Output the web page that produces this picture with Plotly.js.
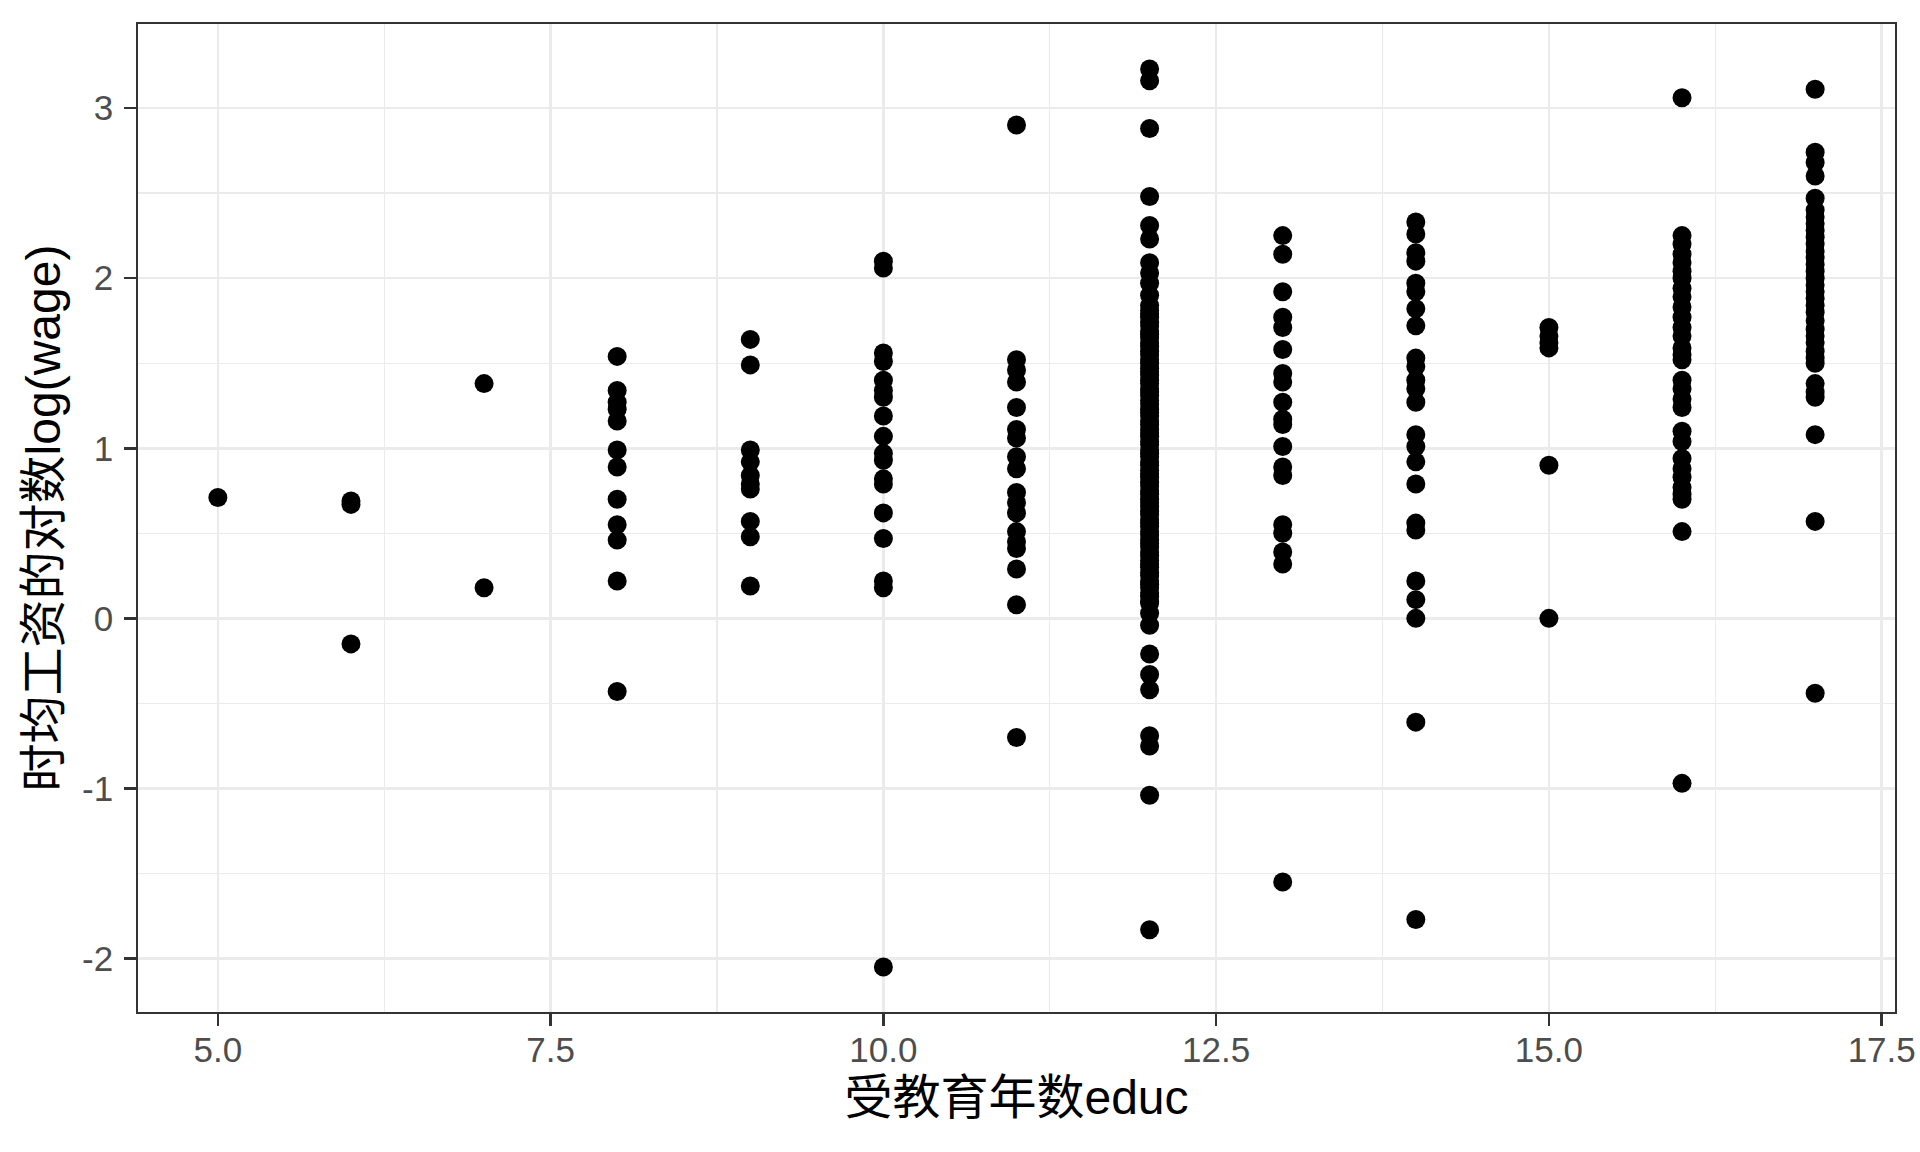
<!DOCTYPE html>
<html>
<head>
<meta charset="utf-8">
<script src="https://cdn.plot.ly/plotly-3.0.1.min.js"></script>
<style>
html,body{margin:0;padding:0;background:#ffffff;}
#chart{width:1920px;height:1152px;}
</style>
</head>
<body>
<div id="chart"></div>
<script>
// Years of education (x) and log hourly wage (y)
const educLevels = [5, 6, 7, 8, 9, 10, 11, 12, 13, 14, 15, 16, 17];

const lwage5 = [0.71];
const lwage6 = [0.69, 0.67, -0.15];
const lwage7 = [1.38, 0.18];
const lwage8 = [1.54, 1.34, 1.27, 1.23, 1.16, 0.99, 0.89, 0.70, 0.55, 0.46, 0.22, -0.43];
const lwage9 = [1.64, 1.49, 0.99, 0.92, 0.84, 0.79, 0.76, 0.57, 0.48, 0.19];
const lwage10 = [2.10, 2.06, 1.56, 1.51, 1.40, 1.34, 1.30, 1.19, 1.07, 0.97, 0.93, 0.82, 0.79,
                 0.62, 0.47, 0.22, 0.18, -2.05];
const lwage11 = [2.90, 1.52, 1.46, 1.39, 1.24, 1.11, 1.06, 0.95, 0.88, 0.74, 0.68, 0.62, 0.51,
                 0.45, 0.41, 0.29, 0.08, -0.70];
const lwage12 = [3.23, 3.16, 2.88, 2.48, 2.31, 2.23, 2.09, 2.03, 1.97, 1.90, 1.84,
                 1.81, 1.79, 1.77, 1.74, 1.72, 1.69, 1.67, 1.65, 1.62, 1.60, 1.57, 1.55, 1.52,
                 1.50, 1.47, 1.45, 1.43, 1.40, 1.38, 1.35, 1.33, 1.31, 1.28, 1.26, 1.23, 1.21,
                 1.19, 1.16, 1.14, 1.11, 1.09, 1.07, 1.04, 1.02, 0.99, 0.97, 0.95, 0.92, 0.90,
                 0.87, 0.85, 0.83, 0.80, 0.78, 0.75, 0.73, 0.70, 0.68, 0.66, 0.63, 0.61, 0.58,
                 0.56, 0.54, 0.51, 0.49, 0.46, 0.44, 0.42, 0.39, 0.37, 0.34, 0.32, 0.30, 0.27,
                 0.25, 0.22, 0.20, 0.18, 0.15, 0.13, 0.10, 0.09,
                 0.03, -0.04, -0.21, -0.33, -0.42, -0.69, -0.75, -1.04, -1.83];
const lwage13 = [2.25, 2.14, 1.92, 1.77, 1.71, 1.58, 1.44, 1.39, 1.27, 1.17, 1.14, 1.01, 0.89,
                 0.84, 0.55, 0.50, 0.39, 0.32, -1.55];
const lwage14 = [2.33, 2.26, 2.15, 2.10, 1.97, 1.92, 1.82, 1.72, 1.53, 1.48, 1.40, 1.35, 1.27,
                 1.08, 1.01, 0.92, 0.79, 0.56, 0.52, 0.22, 0.11, 0.00, -0.61, -1.77];
const lwage15 = [1.71, 1.66, 1.62, 1.59, 0.90, 0.00];
const lwage16 = [3.06, 2.25, 2.20, 2.14, 2.09, 2.04, 2.00, 1.94, 1.89, 1.83, 1.77, 1.71,
                 1.66, 1.59, 1.55, 1.52, 1.40, 1.35, 1.29, 1.24, 1.10, 1.04, 0.94, 0.88,
                 0.83, 0.77, 0.73, 0.70, 0.51, -0.97];
const lwage17 = [3.11, 2.74, 2.68, 2.60, 2.47, 2.40, 2.36, 2.32, 2.28, 2.24, 2.20, 2.16, 2.12,
                 2.08, 2.04, 2.00, 1.96, 1.92, 1.88, 1.84, 1.80, 1.75, 1.70, 1.66, 1.62, 1.57,
                 1.53, 1.50, 1.38, 1.33, 1.30, 1.08, 0.57, -0.44];

const lwageByEduc = [lwage5, lwage6, lwage7, lwage8, lwage9, lwage10, lwage11, lwage12,
                     lwage13, lwage14, lwage15, lwage16, lwage17];

const xTickVals = [5, 7.5, 10, 12.5, 15, 17.5];
const xTickText = ["5.0", "7.5", "10.0", "12.5", "15.0", "17.5"];
const yTickVals = [-2, -1, 0, 1, 2, 3];
const yTickText = ["-2", "-1", "0", "1", "2", "3"];

const xs = [], ys = [];
educLevels.forEach((e, i) => {
  lwageByEduc[i].forEach(v => { xs.push(e); ys.push(v); });
});

const yMin = Math.min(...ys), yMax = Math.max(...ys);
const yPad = (yMax - yMin) * 0.05;
const xMin = Math.min(...educLevels), xMax = Math.max(...educLevels);
const xPad = (xMax - xMin) * 0.05;

const tickFont = {family: "Liberation Sans, Arial, sans-serif", size: 35, color: "#4D4D4D"};
const titleFont = {family: "Liberation Sans, Arial, 'Noto Sans CJK SC', sans-serif", size: 48, color: "#000000"};

const axisCommon = {
  showgrid: true,
  gridcolor: "#EBEBEB",
  gridwidth: 2.6,
  zeroline: false,
  showline: true,
  mirror: true,
  linecolor: "#333333",
  linewidth: 1.8,
  ticks: "outside",
  ticklen: 12,
  tickwidth: 2.5,
  tickcolor: "#333333",
  tickfont: tickFont,
  layer: "below traces"
};

const trace = {
  type: "scatter",
  mode: "markers",
  x: xs,
  y: ys,
  marker: {color: "#000000", size: 19, line: {width: 0}},
  hoverinfo: "x+y",
  showlegend: false
};

const layout = {
  width: 1920,
  height: 1152,
  paper_bgcolor: "#FFFFFF",
  plot_bgcolor: "#FFFFFF",
  margin: {l: 138, r: 25, t: 24, b: 140, pad: 0},
  xaxis: Object.assign({}, axisCommon, {
    range: [xMin - xPad, xMax + xPad],
    tickmode: "array",
    tickvals: xTickVals,
    ticktext: xTickText,
    ticklabelstandoff: -6,
    minor: {dtick: 1.25, tick0: 5, showgrid: true, gridcolor: "#EBEBEB", gridwidth: 1.3, ticks: ""},
    title: {text: "受教育年数educ", font: titleFont, standoff: 13}
  }),
  yaxis: Object.assign({}, axisCommon, {
    range: [yMin - yPad, yMax + yPad],
    tickmode: "array",
    tickvals: yTickVals,
    ticktext: yTickText,
    ticklabelstandoff: 4,
    minor: {dtick: 0.5, tick0: 0, showgrid: true, gridcolor: "#EBEBEB", gridwidth: 1.3, ticks: ""},
    title: {text: "时均工资的对数log(wage)", font: titleFont, standoff: 6}
  })
};

Plotly.newPlot("chart", [trace], layout, {displayModeBar: false, staticPlot: true});
</script>
</body>
</html>
